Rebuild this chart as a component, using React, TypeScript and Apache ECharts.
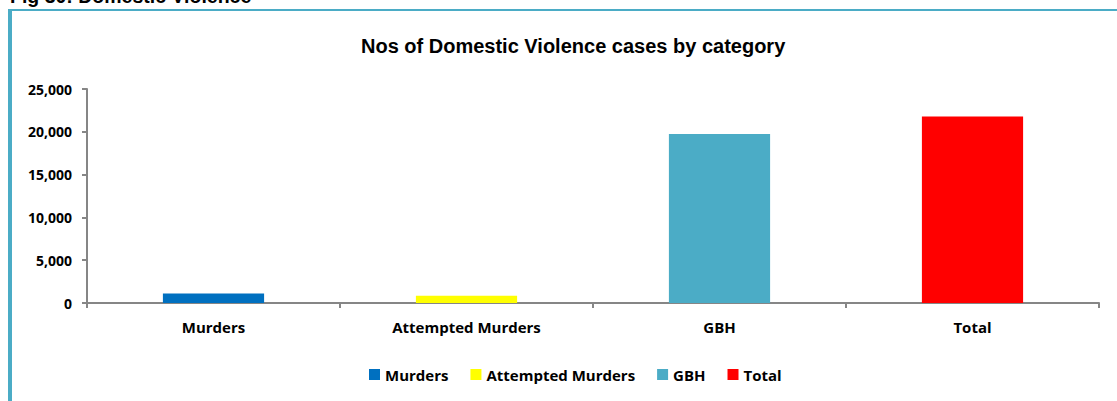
import React, { useEffect, useRef } from "react";
import * as echarts from "echarts";

const categories = ["Murders", "Attempted Murders", "GBH", "Total"];
const seriesNames = ["Murders", "Attempted Murders", "GBH", "Total"];
const seriesValues = [1100, 850, 19750, 21800];
const seriesColors = ["#0070c0", "#ffff00", "#4bacc6", "#ff0000"];
const yTicks = [0, 5000, 10000, 15000, 20000, 25000];

export default function App() {
  const ref = useRef<HTMLDivElement>(null);
  useEffect(() => {
    if (!ref.current) return;
    const chart = echarts.init(ref.current, null, { renderer: "svg" });
    const font = "'Open Sans', Lato, sans-serif";
    chart.setOption({
      animation: false,
      backgroundColor: "#ffffff",
      title: {
        text: "Nos of Domestic Violence cases by category",
        left: 356,
        top: 31,
        textStyle: { fontFamily: "'Liberation Sans', Arial, sans-serif", fontWeight: "bold", fontSize: 20, color: "#000" },
      },
      graphic: [
        { type: "text", left: 10, top: -14, style: { text: "Fig 30: Domestic Violence", font: "bold 19.5px 'Liberation Sans', Arial, sans-serif", fill: "#000" } },
        { type: "rect", shape: { x: 8, y: 9, width: 1109, height: 2 }, style: { fill: "#4bacc6" } },
        { type: "rect", shape: { x: 8, y: 9, width: 4, height: 392 }, style: { fill: "#4bacc6" } },
      ],
      legend: {
        bottom: 14,
        left: 364,
        itemWidth: 11,
        itemHeight: 11,
        itemGap: 22,
        icon: "rect",
        data: seriesNames,
        textStyle: { fontFamily: font, fontWeight: "bold", fontSize: 15, color: "#000" },
      },
      grid: { left: 87, right: 18, top: 89, bottom: 98, containLabel: false },
      xAxis: {
        type: "category",
        data: categories,
        axisLine: { lineStyle: { color: "#868686", width: 2 } },
        axisTick: { show: true, length: 5, alignWithLabel: false, lineStyle: { color: "#868686", width: 2 } },
        axisLabel: { margin: 16, fontFamily: font, fontWeight: "bold", fontSize: 15, color: "#000" },
      },
      yAxis: {
        type: "value",
        min: 0,
        max: yTicks[yTicks.length - 1],
        interval: yTicks[1] - yTicks[0],
        splitLine: { show: false },
        axisLine: { show: true, lineStyle: { color: "#868686", width: 2 } },
        axisTick: { show: true, length: 5, lineStyle: { color: "#868686", width: 2 } },
        axisLabel: {
          margin: 15,
          fontFamily: font,
          fontWeight: "bold",
          fontSize: 14,
          color: "#000",
          formatter: (v: number) => v.toLocaleString("en-US"),
        },
      },
      series: seriesNames.map((name, i) => ({
        name,
        type: "bar",
        stack: "all",
        barWidth: "40%",
        itemStyle: { color: seriesColors[i] },
        data: categories.map((_, j) => (j === i ? seriesValues[i] : "-")),
      })),
    });
    return () => chart.dispose();
  }, []);
  return <div ref={ref} style={{ position: "fixed", left: 0, top: 0, width: 1117, height: 401 }} />;
}
